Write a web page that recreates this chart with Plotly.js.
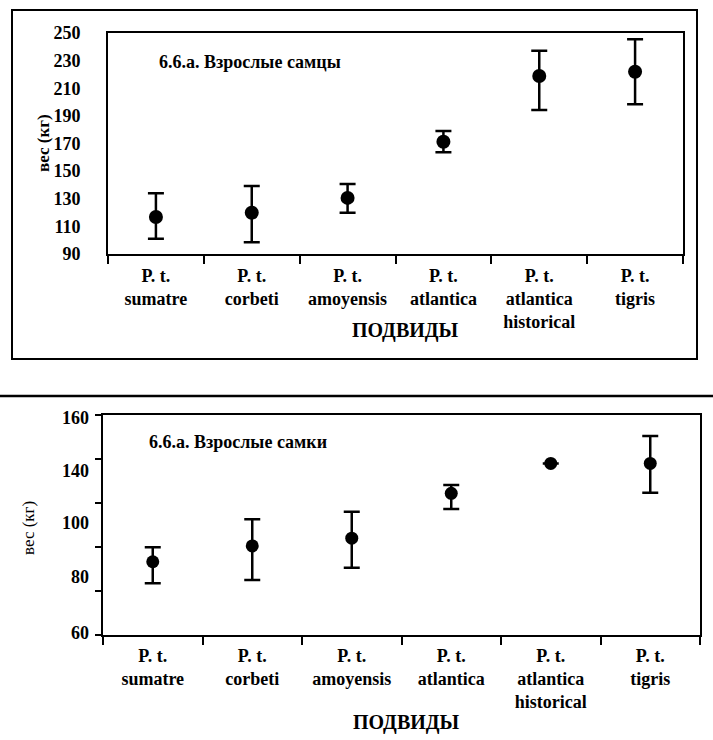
<!DOCTYPE html>
<html>
<head>
<meta charset="utf-8">
<script src="https://cdn.plot.ly/plotly-3.0.1.min.js"></script>
<style>html,body{margin:0;padding:0;background:#fff;}#chart{width:713px;height:740px;}</style>
</head>
<body>
<div id="chart"></div>
<script>
// ---- data ----
const categories = ['P. t.<br>sumatre', 'P. t.<br>corbeti', 'P. t.<br>amoyensis', 'P. t.<br>atlantica', 'P. t.<br>atlantica<br>historical', 'P. t.<br>tigris'];
const maleMean  = [116.8, 119.9, 130.6, 171.3, 218.9, 222.0];
const maleUpper = [133.9, 139.2, 140.7, 179.1, 237.2, 245.5];
const maleLower = [101.1, 98.5, 119.9, 163.6, 194.3, 198.4];
const femaleMean  = [93.3, 100.5, 104.0, 124.4, 138.0, 138.0];
const femaleUpper = [99.9, 112.6, 116.0, 128.2, 138.0, 150.5];
const femaleLower = [83.5, 85.0, 90.6, 117.3, 138.0, 124.7];
const maleTickVals = [90, 110, 130, 150, 170, 190, 210, 230, 250];
const femaleTickMarks = [60, 80, 100, 120, 140, 160];
const femaleTickText = ['60', '80', '100', '140', '160'];
const femaleTickVals = [61, 86.5, 111, 134.5, 159];
const maleTitle = '6.6.а. Взрослые самцы';
const femaleTitle = '6.6.а. Взрослые самки';
const xTitle = 'ПОДВИДЫ';
const yTitle = 'вес (кг)';

const W = 713, H = 740;
const px = v => v / W;
const py = v => (H - v) / H;
const FAM = 'Liberation Serif';
const boldFont = (s) => ({family: FAM, size: s, color: '#000', weight: 'bold'});

const diff = (a, b) => a.map((v, i) => Math.max(0, v - b[i]));

const errStyle = {type: 'data', symmetric: false, color: '#000', thickness: 2.5, width: 8};

const traces = [
  {
    x: categories, y: maleMean, xaxis: 'x', yaxis: 'y', type: 'scatter', mode: 'markers',
    marker: {color: '#000', size: 14},
    error_y: Object.assign({array: diff(maleUpper, maleMean), arrayminus: diff(maleMean, maleLower)}, errStyle),
    showlegend: false, hoverinfo: 'skip'
  },
  {
    x: categories, y: femaleMean, xaxis: 'x2', yaxis: 'y2', type: 'scatter', mode: 'markers',
    marker: {color: '#000', size: 13},
    error_y: Object.assign({array: diff(femaleUpper, femaleMean), arrayminus: diff(femaleMean, femaleLower)}, errStyle),
    showlegend: false, hoverinfo: 'skip'
  },
  { // invisible trace to activate label axis
    x: [categories[0]], y: [femaleMean[0]], xaxis: 'x2', yaxis: 'y3', type: 'scatter', mode: 'markers',
    marker: {opacity: 0}, showlegend: false, hoverinfo: 'skip'
  }
];

const xCommon = {
  type: 'category', range: [-0.5, 5.5], showline: true, mirror: true, linecolor: '#000', linewidth: 2,
  showgrid: false, zeroline: false, ticks: 'outside', tickson: 'boundaries', ticklen: 8, tickwidth: 2,
  tickcolor: '#000', tickfont: boldFont(18), fixedrange: true
};

const layout = {
  width: W, height: H,
  margin: {l: 0, r: 0, t: 0, b: 0},
  paper_bgcolor: '#fff', plot_bgcolor: '#fff',
  font: {family: FAM, color: '#000'},
  showlegend: false,
  xaxis: Object.assign({}, xCommon, {domain: [px(108), px(683)], anchor: 'y', ticklabelstandoff: 4}),
  yaxis: {
    domain: [py(254), py(33)], anchor: 'x', range: [90, 250], tickvals: maleTickVals,
    showline: true, mirror: true, linecolor: '#000', linewidth: 2, showgrid: false, zeroline: false,
    ticks: '', tickfont: boldFont(18), ticklabelstandoff: 22
  },
  xaxis2: Object.assign({}, xCommon, {domain: [px(103), px(700)], anchor: 'y2', ticklabelstandoff: 3}),
  yaxis2: {
    domain: [py(635), py(415)], anchor: 'x2', range: [60, 160], tickvals: femaleTickMarks,
    showline: true, mirror: true, linecolor: '#000', linewidth: 2, showgrid: false, zeroline: false,
    ticks: 'outside', ticklen: 6, tickwidth: 2, tickcolor: '#000', showticklabels: false
  },
  yaxis3: {
    overlaying: 'y2', anchor: 'x2', range: [60, 160], tickvals: femaleTickVals, ticktext: femaleTickText,
    showline: false, showgrid: false, zeroline: false, ticks: '', tickfont: boldFont(18), ticklabelstandoff: 13
  },
  shapes: [
    {type: 'rect', xref: 'paper', yref: 'paper', x0: px(12), x1: px(697), y0: py(359), y1: py(10),
     line: {color: '#000', width: 2}},
    {type: 'line', xref: 'paper', yref: 'paper', x0: 0, x1: 1, y0: py(396), y1: py(396),
     line: {color: '#000', width: 2.5}}
  ],
  annotations: [
    {text: maleTitle, xref: 'paper', yref: 'paper', x: px(157), y: py(62), xanchor: 'left', yanchor: 'middle',
     showarrow: false, font: boldFont(18)},
    {text: femaleTitle, xref: 'paper', yref: 'paper', x: px(147), y: py(442), xanchor: 'left', yanchor: 'middle',
     showarrow: false, font: boldFont(18)},
    {text: xTitle, xref: 'paper', yref: 'paper', x: px(405), y: py(330), xanchor: 'center', yanchor: 'middle',
     showarrow: false, font: boldFont(20)},
    {text: xTitle, xref: 'paper', yref: 'paper', x: px(406), y: py(722), xanchor: 'center', yanchor: 'middle',
     showarrow: false, font: boldFont(20)},
    {text: yTitle, xref: 'paper', yref: 'paper', x: px(43), y: py(143), xanchor: 'center', yanchor: 'middle',
     textangle: -90, showarrow: false, font: boldFont(17)},
    {text: yTitle, xref: 'paper', yref: 'paper', x: px(28), y: py(528), xanchor: 'center', yanchor: 'middle',
     textangle: -90, showarrow: false, font: {family: FAM, size: 17, color: '#000'}}
  ]
};

Plotly.newPlot('chart', traces, layout, {displayModeBar: false, staticPlot: true});
</script>
</body>
</html>
